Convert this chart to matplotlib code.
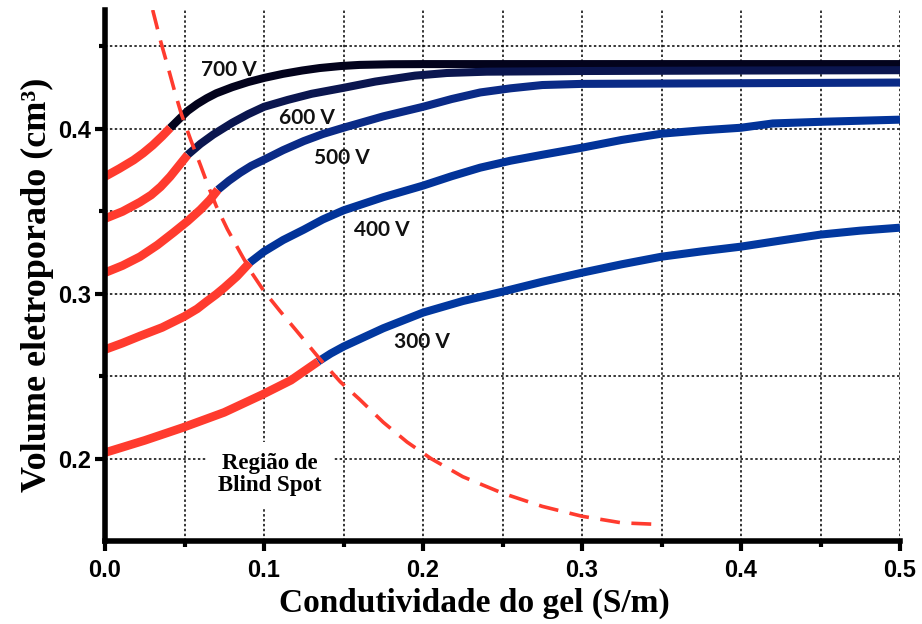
import matplotlib
matplotlib.use("Agg")
import matplotlib.pyplot as plt
from matplotlib.ticker import FixedLocator

# ---------------- data ----------------
voltages = ["700 V", "600 V", "500 V", "400 V", "300 V"]

v700_x = [0.0, 0.009, 0.018, 0.024, 0.030, 0.036, 0.041, 0.047, 0.052, 0.058, 0.064, 0.070, 0.080,
          0.090, 0.100, 0.112, 0.124, 0.135, 0.148, 0.160, 0.180, 0.200, 0.300, 0.400, 0.500]
v700_y = [0.3710, 0.3758, 0.3810, 0.3852, 0.3900, 0.3955, 0.4005, 0.4062, 0.4108, 0.4150, 0.4185, 0.4215, 0.4252,
          0.4283, 0.4308, 0.4333, 0.4353, 0.4368, 0.4380, 0.4387, 0.4391, 0.4392, 0.4392, 0.4392, 0.4392]
v700_split = 0.041

v600_x = [0.0, 0.011, 0.022, 0.029, 0.035, 0.041, 0.046, 0.052, 0.060, 0.068, 0.080, 0.090, 0.100, 0.115, 0.130,
          0.150, 0.170, 0.195, 0.215, 0.240, 0.300, 0.400, 0.500]
v600_y = [0.3455, 0.3498, 0.3555, 0.3598, 0.3648, 0.3710, 0.3770, 0.3842, 0.3908, 0.3964, 0.4036, 0.4088, 0.4133, 0.4175,
          0.4212, 0.4248, 0.4286, 0.4322, 0.4338, 0.4346, 0.4350, 0.4353, 0.4355]
v600_split = 0.052

v500_x = [0.0, 0.011, 0.022, 0.033, 0.043, 0.052, 0.060, 0.066, 0.071, 0.078, 0.085, 0.092, 0.100, 0.112,
          0.125, 0.137, 0.150, 0.175, 0.200, 0.218, 0.236, 0.255, 0.275, 0.300, 0.400, 0.500]
v500_y = [0.3127, 0.3170, 0.3224, 0.3295, 0.3370, 0.3440, 0.3509, 0.3569, 0.3630, 0.3685, 0.3733, 0.3775, 0.3812, 0.3870,
          0.3925, 0.3968, 0.4006, 0.4075, 0.4133, 0.4180, 0.4220, 0.4245, 0.4265, 0.4272, 0.4276, 0.4280]
v500_split = 0.071

v400_x = [0.0, 0.011, 0.022, 0.036, 0.050, 0.058, 0.064, 0.070, 0.075, 0.083, 0.091, 0.100, 0.112, 0.125,
          0.137, 0.150, 0.175, 0.200, 0.218, 0.236, 0.255, 0.275, 0.300, 0.325, 0.350, 0.375, 0.400, 0.420,
          0.450, 0.500]
v400_y = [0.2661, 0.2700, 0.2743, 0.2795, 0.2862, 0.2908, 0.2953, 0.2996, 0.3036, 0.3105, 0.3188, 0.3255, 0.3325, 0.3388,
          0.3450, 0.3505, 0.3585, 0.3655, 0.3712, 0.3764, 0.3806, 0.3842, 0.3885, 0.3932, 0.3970, 0.3990, 0.4006, 0.4032,
          0.4042, 0.4055]
v400_split = 0.091

v300_x = [0.0, 0.025, 0.049, 0.075, 0.099, 0.117, 0.134, 0.142, 0.150, 0.175, 0.200, 0.225, 0.250, 0.275,
          0.300, 0.325, 0.350, 0.375, 0.400, 0.425, 0.450, 0.475, 0.500]
v300_y = [0.2036, 0.2110, 0.2188, 0.2280, 0.2388, 0.2475, 0.2588, 0.2637, 0.2679, 0.2790, 0.2885, 0.2955, 0.3012, 0.3072,
          0.3127, 0.3178, 0.3224, 0.3256, 0.3285, 0.3322, 0.3358, 0.3382, 0.3400]
v300_split = 0.134

blind_x = [0.030, 0.035, 0.040, 0.044, 0.048, 0.054, 0.060, 0.065, 0.070, 0.077, 0.085, 0.092, 0.100, 0.110,
           0.120, 0.135, 0.148, 0.160, 0.175, 0.190, 0.205, 0.225, 0.250, 0.275, 0.300, 0.325, 0.350]
blind_y = [0.472, 0.453, 0.436, 0.422, 0.409, 0.393, 0.378, 0.365, 0.353, 0.339, 0.325, 0.313, 0.3015, 0.2895,
           0.278, 0.2605, 0.2465, 0.236, 0.222, 0.210, 0.200, 0.189, 0.179, 0.171, 0.165, 0.161, 0.160]

x_ticks = [0.0, 0.1, 0.2, 0.3, 0.4, 0.5]
x_tick_labels = ["0.0", "0.1", "0.2", "0.3", "0.4", "0.5"]
x_minor = [0.05, 0.15, 0.25, 0.35, 0.45]
y_ticks = [0.2, 0.3, 0.4]
y_tick_labels = ["0.2", "0.3", "0.4"]
y_minor = [0.25, 0.35, 0.45]

# label positions (data coords)
label_pos = {"700 V": (0.078, 0.4358), "600 V": (0.127, 0.4067), "500 V": (0.149, 0.3824),
             "400 V": (0.1742, 0.3388), "300 V": (0.1994, 0.2709)}

colors = {"700 V": "#03031c", "600 V": "#0b164f", "500 V": "#0a2a86", "400 V": "#023399", "300 V": "#02389f"}
RED = "#ff3b2e"

# ---------------- figure ----------------
fig = plt.figure(figsize=(9.22, 6.24), dpi=100)
ax = fig.add_axes([105 / 922, 1 - 541 / 624, 795 / 922, 531 / 624])

ax.set_xlim(0, 0.5)
ax.set_ylim(0.15, 0.472)

series = [
    ("700 V", v700_x, v700_y, v700_split),
    ("600 V", v600_x, v600_y, v600_split),
    ("500 V", v500_x, v500_y, v500_split),
    ("400 V", v400_x, v400_y, v400_split),
    ("300 V", v300_x, v300_y, v300_split),
]

LW = 5.8
for name, xs, ys, sp in series:
    rx = [x for x in xs if x <= sp]
    ry = [y for x, y in zip(xs, ys) if x <= sp]
    bx = [x for x in xs if x >= sp]
    by = [y for x, y in zip(xs, ys) if x >= sp]
    ax.plot(bx, by, color=colors[name], lw=LW, solid_capstyle="butt", solid_joinstyle="round", zorder=3)
    ax.plot(rx, ry, color=RED, lw=LW + 0.4, solid_capstyle="butt", solid_joinstyle="round", zorder=3)
    lx, ly = label_pos[name]
    ax.text(lx, ly, name, family="Lato", fontweight="bold", fontsize=15, ha="center", va="center",
            color="#111111", zorder=5)

ax.plot(blind_x, blind_y, color=RED, lw=2.6, dashes=(5.5, 3.2), zorder=3)

ax.text(0.1038, 0.1903, "Região de\nBlind Spot", family="Liberation Serif", fontweight="bold",
        fontsize=16.5, ha="center", va="center", linespacing=1.05, zorder=4,
        bbox=dict(boxstyle="square,pad=0.5", fc="white", ec="none"))

# grid
ax.xaxis.set_major_locator(FixedLocator(x_ticks))
ax.xaxis.set_minor_locator(FixedLocator(x_minor))
ax.yaxis.set_major_locator(FixedLocator(y_ticks))
ax.yaxis.set_minor_locator(FixedLocator(y_minor))
ax.set_xticklabels(x_tick_labels)
ax.set_yticklabels(y_tick_labels)
ax.grid(True, which="both", color="black", lw=1.1, linestyle=(0, (1.6, 1.6)), zorder=1)
ax.set_axisbelow(True)

for s in ["top", "right"]:
    ax.spines[s].set_visible(False)
for s in ["left", "bottom"]:
    ax.spines[s].set_linewidth(4.0)
    ax.spines[s].set_zorder(6)

ax.tick_params(which="major", direction="out", length=7, width=3, color="black")
ax.tick_params(which="minor", direction="out", length=4, width=3, color="black")
ax.tick_params(axis="x", which="major", pad=6)
ax.tick_params(axis="y", which="major", pad=3)
for lab in ax.get_xticklabels() + ax.get_yticklabels():
    lab.set_family("Liberation Sans")
    lab.set_fontweight("bold")
    lab.set_fontsize(17)

ax.set_xlabel("Condutividade do gel (S/m)", family="Liberation Serif", fontweight="bold",
              fontsize=24, va="center", ha="center")
ax.xaxis.set_label_coords(0.464, -0.117)
ax.set_ylabel("Volume eletroporado (cm³)", family="Liberation Serif", fontweight="bold",
              fontsize=26, va="center", ha="center")
ax.yaxis.set_label_coords(-0.0843, 0.482)

fig.savefig("out.png", dpi=100)
